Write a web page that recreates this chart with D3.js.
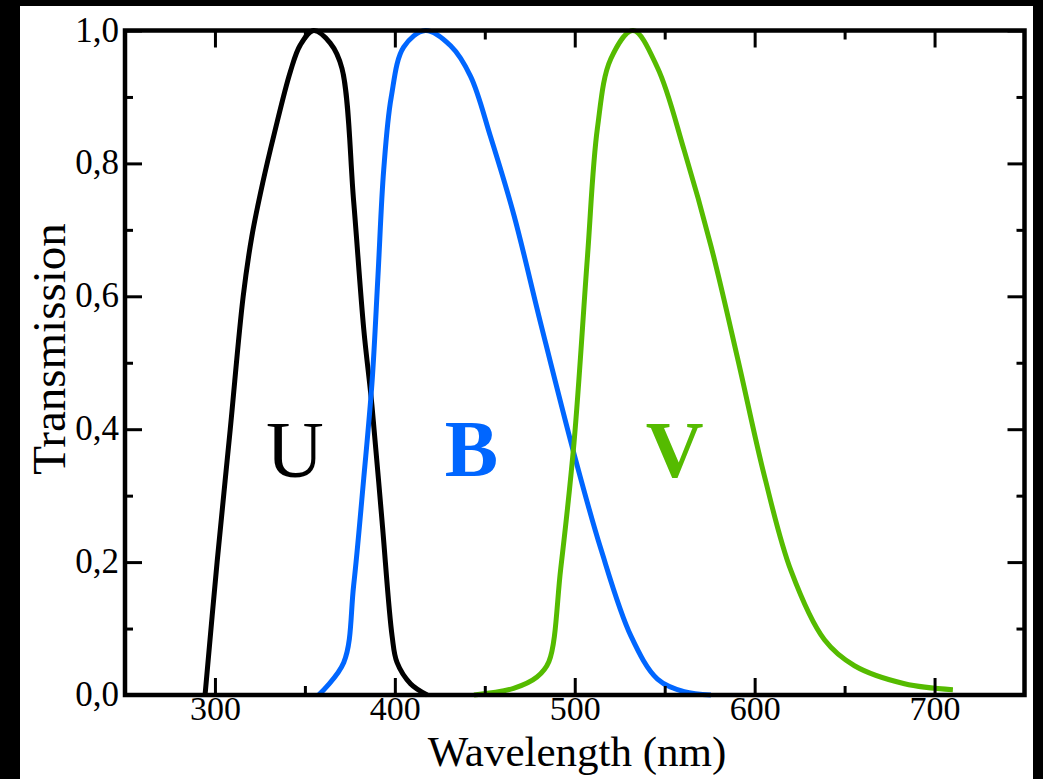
<!DOCTYPE html>
<html>
<head>
<meta charset="utf-8">
<script src="https://cdn.jsdelivr.net/npm/d3@7/dist/d3.min.js"></script>
<style>
  html, body { margin: 0; padding: 0; background: #000; }
  svg { display: block; }
  text { font-family: "Liberation Serif", "Times New Roman", Times, serif; }
</style>
</head>
<body>
<svg id="chart" width="1043" height="779"></svg>
<script>
// ---- data (wavelength nm, transmission) ----
const uWave  = [294.5, 301.2, 308.5, 315.7, 320.5, 326.5, 333.0, 341.9, 347.4, 354.8, 364.1, 370.6, 377.1, 382.7, 387.3, 392.9, 398.5, 401.2, 408.7, 418.0];
const uTrans = [0.000, 0.200, 0.400, 0.600, 0.690, 0.770, 0.845, 0.938, 0.978, 1.000, 0.981, 0.943, 0.743, 0.551, 0.435, 0.261, 0.088, 0.049, 0.017, 0.000];

const bWave  = [357.6, 371.6, 377.1, 382.7, 387.3, 390.6, 393.8, 398.0, 404.9, 417.0, 431.0, 442.1, 453.2, 466.2, 481.1, 499.6, 514.5, 531.2, 546.0, 560.8, 575.7];
const bTrans = [0.000, 0.049, 0.165, 0.326, 0.470, 0.630, 0.790, 0.900, 0.975, 1.000, 0.977, 0.931, 0.840, 0.722, 0.559, 0.363, 0.220, 0.089, 0.024, 0.005, 0.000];

const vWave  = [444.0, 466.0, 479.0, 485.6, 492.2, 499.6, 507.0, 512.6, 520.0, 532.4, 546.0, 560.8, 575.7, 590.5, 605.3, 620.2, 638.8, 655.5, 683.3, 710.2];
const vTrans = [0.000, 0.010, 0.027, 0.050, 0.190, 0.380, 0.657, 0.853, 0.957, 1.000, 0.944, 0.820, 0.676, 0.507, 0.331, 0.187, 0.083, 0.044, 0.017, 0.008];

const xMajor = [300, 400, 500, 600, 700];
const xMinor = [350, 450, 550, 650];
const yMajor = [0.0, 0.2, 0.4, 0.6, 0.8, 1.0];
const yMinor = [0.1, 0.3, 0.5, 0.7, 0.9];

const seriesNames  = ["U", "B", "V"];
const seriesColors = ["#000000", "#0066ff", "#55bb00"];
const labelWave    = [344.5, 442.5, 555.5];
const labelTrans   = [0.328, 0.330, 0.328];
const labelWeight  = ["normal", "bold", "bold"];

// ---- layout ----
const svg = d3.select("#chart");
const L = 125, R = 1024.5, T = 30.5, B = 695;
const x = d3.scaleLinear().domain([250, 750]).range([L, R]);
const y = d3.scaleLinear().domain([0, 1]).range([B, T]);

svg.append("rect").attr("x", 20).attr("y", 6).attr("width", 1013).attr("height", 779 - 6).attr("fill", "#fff");

const fmtY = v => d3.format(".1f")(v).replace(".", ",");

// curves
const series = [
  {w: uWave, t: uTrans},
  {w: bWave, t: bTrans},
  {w: vWave, t: vTrans}
];
const line = d3.line().x(d => x(d[0])).y(d => y(d[1])).curve(d3.curveCatmullRom.alpha(0.5));
series.forEach((s, i) => {
  const pts = s.w.map((w, k) => [w, s.t[k]]);
  svg.append("path").datum(pts)
    .attr("d", line)
    .attr("fill", "none")
    .attr("stroke", seriesColors[i])
    .attr("stroke-width", 5)
    .attr("stroke-linejoin", "round");
});

// axes
function styleAxis(g) {
  g.select(".domain").remove();
  g.selectAll(".tick line").attr("stroke", "#000").attr("stroke-width", 3);
  g.selectAll(".tick text").attr("fill", "#000").attr("font-size", 35)
    .attr("font-family", '"Liberation Serif", "Times New Roman", serif');
}
// bottom
svg.append("g").attr("transform", `translate(0,${B})`)
  .call(d3.axisBottom(x).tickValues(xMajor).tickSize(-17).tickFormat(d3.format("d")))
  .call(styleAxis)
  .call(g => g.selectAll(".tick text").attr("dy", null).attr("y", 25).attr("font-size", 34));
svg.append("g").attr("transform", `translate(0,${B})`)
  .call(d3.axisBottom(x).tickValues(xMinor).tickSize(-9).tickFormat(""))
  .call(styleAxis);
// top
svg.append("g").attr("transform", `translate(0,${T})`)
  .call(d3.axisTop(x).tickValues(xMajor).tickSize(-17).tickFormat(""))
  .call(styleAxis);
svg.append("g").attr("transform", `translate(0,${T})`)
  .call(d3.axisTop(x).tickValues(xMinor).tickSize(-9).tickFormat(""))
  .call(styleAxis);
// left
svg.append("g").attr("transform", `translate(${L},0)`)
  .call(d3.axisLeft(y).tickValues(yMajor).tickSize(-17).tickFormat(fmtY))
  .call(styleAxis)
  .call(g => g.selectAll(".tick text").attr("x", -6).attr("dy", "0.30em"));
svg.append("g").attr("transform", `translate(${L},0)`)
  .call(d3.axisLeft(y).tickValues(yMinor).tickSize(-8).tickFormat(""))
  .call(styleAxis);
// right
svg.append("g").attr("transform", `translate(${R},0)`)
  .call(d3.axisRight(y).tickValues(yMajor).tickSize(-17).tickFormat(""))
  .call(styleAxis);
svg.append("g").attr("transform", `translate(${R},0)`)
  .call(d3.axisRight(y).tickValues(yMinor).tickSize(-8).tickFormat(""))
  .call(styleAxis);

// frame
svg.append("rect").attr("x", L).attr("y", T).attr("width", R - L).attr("height", B - T)
  .attr("fill", "none").attr("stroke", "#000").attr("stroke-width", 4.5);

// filter labels
seriesNames.forEach((n, i) => {
  svg.append("text")
    .attr("x", x(labelWave[i])).attr("y", y(labelTrans[i]))
    .attr("text-anchor", "middle")
    .attr("font-size", 80)
    .attr("font-weight", labelWeight[i])
    .attr("fill", seriesColors[i])
    .text(n);
});

// axis titles
svg.append("text")
  .attr("x", 577).attr("y", 766)
  .attr("text-anchor", "middle").attr("font-size", 43).attr("fill", "#000")
  .text("Wavelength (nm)");
svg.append("text")
  .attr("transform", `translate(65,349) rotate(-90)`)
  .attr("text-anchor", "middle").attr("font-size", 47).attr("fill", "#000")
  .text("Transmission");
</script>
</body>
</html>
